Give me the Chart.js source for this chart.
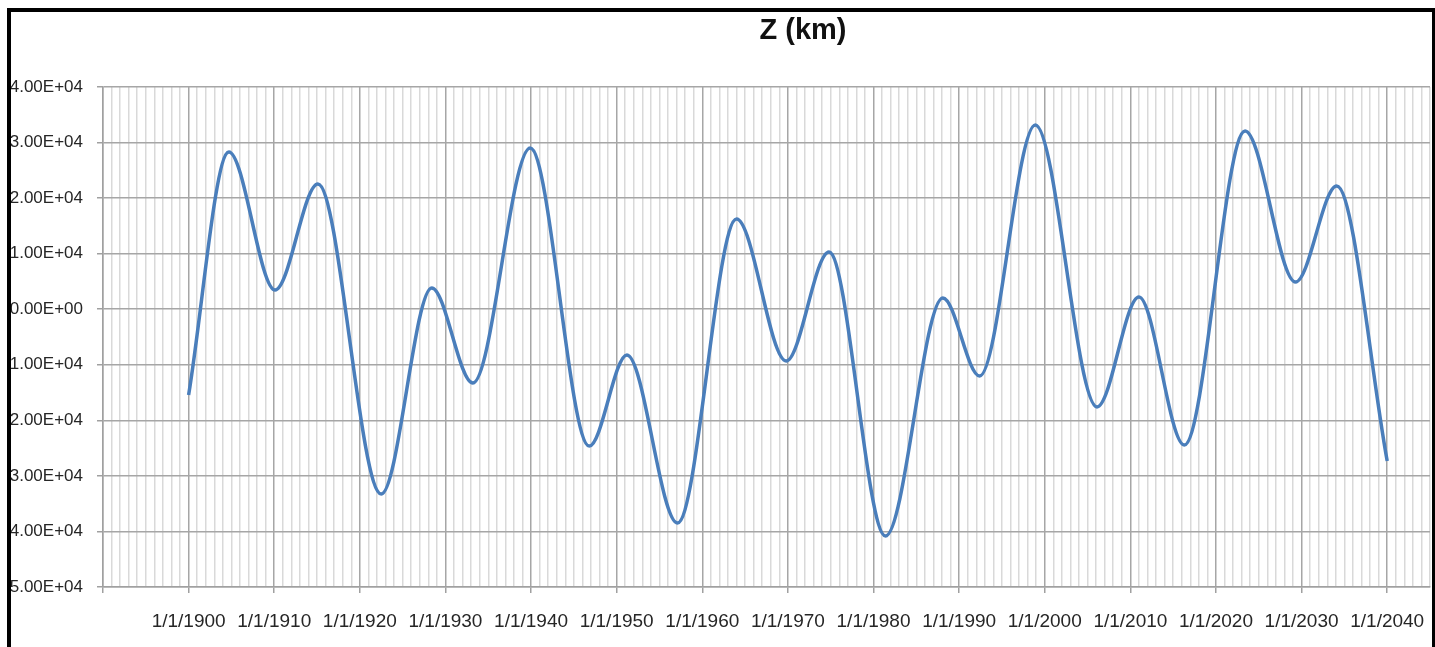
<!DOCTYPE html>
<html>
<head>
<meta charset="utf-8">
<script src="https://cdn.jsdelivr.net/npm/chart.js@4.4.1/dist/chart.umd.min.js"></script>
<style>
  html, body { margin: 0; padding: 0; background: #fff; }
  #wrap { position: relative; width: 1435px; height: 647px; }
</style>
</head>
<body>
<div id="wrap"><canvas id="c" width="1435" height="647"></canvas></div>
<script>
// ---- Data ----
const chartTitle = "Z (km)";
// years (decimal) of the curve's turning points, start and end
const years = [1900.0, 1904.7, 1910.1, 1915.1, 1922.5, 1928.4, 1933.2, 1939.9, 1946.8, 1951.2,
               1957.1, 1964.0, 1969.8, 1974.8, 1981.4, 1988.1, 1992.4, 1998.9, 2006.1, 2011.0,
               2016.3, 2023.4, 2029.3, 2034.1, 2040.0];
// Z values (km)
const zValues = [-15440, 28300, 3460, 22540, -33260, 3820, -13280, 29020, -24620, -8240,
                 -38480, 16240, -9320, 10300, -40820, 2020, -12020, 33160, -17600, 2200,
                 -24440, 32080, 4900, 22180, -27320];
// axis ticks
const yTickValues = [40000, 30000, 20000, 10000, 0, -10000, -20000, -30000, -40000, -50000];
const yTickLabels = ["4.00E+04", "3.00E+04", "2.00E+04", "1.00E+04", "0.00E+00",
                     "1.00E+04", "2.00E+04", "3.00E+04", "4.00E+04", "5.00E+04"];
const xLabelYears = [1900, 1910, 1920, 1930, 1940, 1950, 1960, 1970, 1980, 1990, 2000, 2010, 2020, 2030, 2040];
const xMin = 1890, xMax = 2045;

const points = years.map((yr, i) => ({ x: yr, y: zValues[i] }));

const framePlugin = {
  id: 'frame',
  beforeDraw(chart) {
    const ctx = chart.ctx;
    ctx.save();
    ctx.fillStyle = '#ffffff';
    ctx.fillRect(0, 0, chart.width, chart.height);
    ctx.restore();
  },
  afterDraw(chart) {
    const ctx = chart.ctx;
    ctx.save();
    ctx.fillStyle = '#000000';
    ctx.fillRect(7, 8, 4, 639);
    ctx.fillRect(7, 8, 1428, 4);
    ctx.fillRect(1432, 8, 3, 639);
    ctx.font = 'bold 29px "Liberation Sans", Arial, sans-serif';
    ctx.textAlign = 'center';
    ctx.textBaseline = 'middle';
    ctx.fillStyle = '#111111';
    ctx.fillText(chartTitle, 803, 31);
    ctx.restore();
  }
};

new Chart(document.getElementById('c'), {
  type: 'line',
  data: {
    datasets: [{
      data: points,
      borderColor: '#4a7ebb',
      borderWidth: 3.5,
      pointRadius: 0,
      fill: false,
      cubicInterpolationMode: 'monotone'
    }]
  },
  options: {
    responsive: false,
    animation: false,
    devicePixelRatio: 1,
    layout: { padding: { top: 87, right: 5, left: 0, bottom: 0 } },
    plugins: { legend: { display: false }, tooltip: { enabled: false }, title: { display: false } },
    scales: {
      x: {
        type: 'linear',
        min: xMin,
        max: xMax,
        afterFit(scale) { scale.height = 60; scale.paddingLeft = 0; scale.paddingRight = 0; },
        afterBuildTicks(scale) {
          const t = [];
          for (let v = xMin; v <= xMax; v++) t.push({ value: v });
          scale.ticks = t;
        },
        ticks: {
          autoSkip: false,
          maxRotation: 0,
          minRotation: 0,
          padding: 17,
          color: '#262626',
          font: { family: '"Liberation Sans", Arial, sans-serif', size: 19 },
          callback(v) { return xLabelYears.includes(v) ? '1/1/' + v : ''; }
        },
        grid: {
          color(ctx) { const v = ctx.tick && ctx.tick.value; return (v % 10 === 0) ? '#a6a6a6' : '#d9d9d9'; },
          lineWidth: 1.5,
          tickColor(ctx) { const v = ctx.tick && ctx.tick.value; return (v % 10 === 0) ? '#a0a0a0' : 'rgba(0,0,0,0)'; },
          tickLength: 6
        },
        border: { color: '#a0a0a0', width: 1.5 }
      },
      y: {
        type: 'linear',
        min: -50000,
        max: 40000,
        afterFit(scale) { scale.width = 103; },
        afterBuildTicks(scale) { scale.ticks = yTickValues.map(v => ({ value: v })); },
        ticks: {
          padding: 14,
          color: '#262626',
          font: { family: '"Liberation Sans", Arial, sans-serif', size: 17 },
          callback(v) { const i = yTickValues.indexOf(v); return i >= 0 ? yTickLabels[i] : ''; }
        },
        grid: { color: '#a6a6a6', lineWidth: 1.5, tickLength: 6, tickColor: '#a0a0a0' },
        border: { color: '#a0a0a0', width: 1.5 }
      }
    }
  },
  plugins: [framePlugin]
});
</script>
</body>
</html>
